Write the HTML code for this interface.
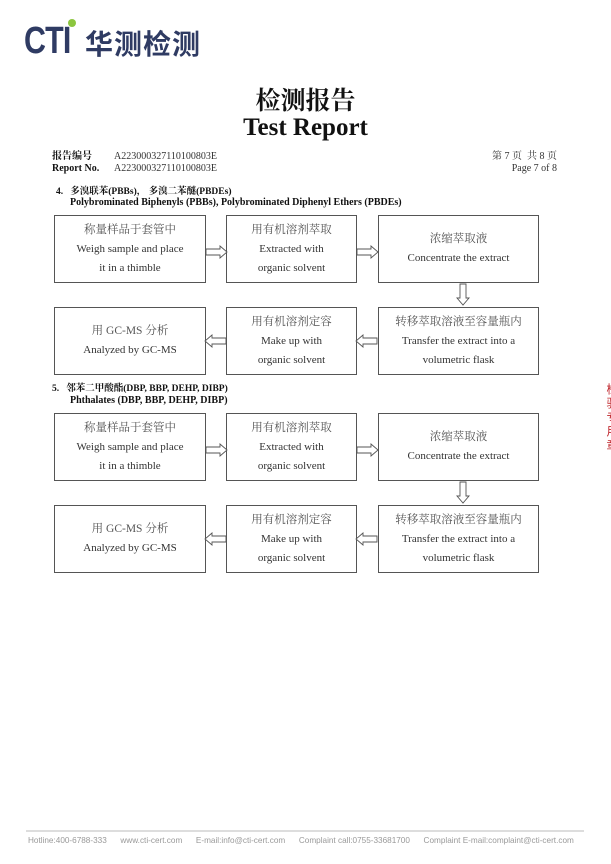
<!DOCTYPE html>
<html><head><meta charset="utf-8"><style>
body{margin:0;width:611px;height:864px;background:#fff;position:relative;overflow:hidden;font-family:"Liberation Serif","Noto Serif CJK SC",serif;color:#111}
.a{position:absolute;white-space:nowrap}
.box{position:absolute;border:1px solid #555;box-sizing:border-box;text-align:center;font-size:11px;line-height:19px;color:#333;display:flex;flex-direction:column;justify-content:center}
.cn{color:#555;font-size:11.5px}
</style></head><body>
<div class="a" style="left:24px;top:22px;font:bold 38px/38px 'Liberation Sans',sans-serif;color:#2f3b63;letter-spacing:-1px;transform:scaleX(0.8);transform-origin:left">CTI</div>
<div style="position:absolute;left:68px;top:19px;width:8px;height:8px;border-radius:50%;background:#8cc63f"></div>
<div class="a" style="left:85px;top:27px;font:bold 28px/32px 'Noto Sans CJK SC',sans-serif;color:#2f3b63;letter-spacing:1px">华测检测</div>
<div class="a" style="left:0;width:611px;text-align:center;top:84px;font:bold 25px/30px 'Noto Serif CJK SC',serif">检测报告</div>
<div class="a" style="left:0;width:611px;text-align:center;top:113px;font:bold 25px/30px 'Liberation Serif',serif">Test Report</div>
<div class="a" style="left:52px;top:151px;font-size:10px;line-height:12px;width:200px"><b>报告编号</b><span style="position:absolute;left:62px;color:#333">A223000327110100803E</span><br><b>Report No.</b><span style="position:absolute;left:62px;top:12px;color:#333">A223000327110100803E</span></div>
<div class="a" style="right:54px;top:151px;font-size:10px;line-height:12px;text-align:right;color:#333">第 7 页 &nbsp;共 8 页<br>Page 7 of 8</div>

<div class="a" style="left:56px;top:183px;font-size:9.5px;font-weight:bold">4. &nbsp;&nbsp;多溴联苯(PBBs)， 多溴二苯醚(PBDEs)</div>
<div class="a" style="left:70px;top:197px;font-size:10px;font-weight:bold">Polybrominated Biphenyls (PBBs), Polybrominated Diphenyl Ethers (PBDEs)</div>

<div class="a" style="left:52px;top:380px;font-size:9.5px;font-weight:bold">5. &nbsp;&nbsp;邻苯二甲酸酯(DBP, BBP, DEHP, DIBP)</div>
<div class="a" style="left:70px;top:395px;font-size:10px;font-weight:bold">Phthalates (DBP, BBP, DEHP, DIBP)</div>

<div class="box" style="left:54px;top:215px;width:152px;height:68px"><span class="cn">称量样品于套管中</span>Weigh sample and place<br>it in a thimble</div>
<div class="box" style="left:226px;top:215px;width:131px;height:68px"><span class="cn">用有机溶剂萃取</span>Extracted with<br>organic solvent</div>
<div class="box" style="left:378px;top:215px;width:161px;height:68px"><span class="cn">浓缩萃取液</span>Concentrate the extract</div>
<div class="box" style="left:54px;top:307px;width:152px;height:68px"><span class="cn">用 GC-MS 分析</span>Analyzed by GC-MS</div>
<div class="box" style="left:226px;top:307px;width:131px;height:68px"><span class="cn">用有机溶剂定容</span>Make up with<br>organic solvent</div>
<div class="box" style="left:378px;top:307px;width:161px;height:68px"><span class="cn">转移萃取溶液至容量瓶内</span>Transfer the extract into a<br>volumetric flask</div>
<div class="box" style="left:54px;top:413px;width:152px;height:68px"><span class="cn">称量样品于套管中</span>Weigh sample and place<br>it in a thimble</div>
<div class="box" style="left:226px;top:413px;width:131px;height:68px"><span class="cn">用有机溶剂萃取</span>Extracted with<br>organic solvent</div>
<div class="box" style="left:378px;top:413px;width:161px;height:68px"><span class="cn">浓缩萃取液</span>Concentrate the extract</div>
<div class="box" style="left:54px;top:505px;width:152px;height:68px"><span class="cn">用 GC-MS 分析</span>Analyzed by GC-MS</div>
<div class="box" style="left:226px;top:505px;width:131px;height:68px"><span class="cn">用有机溶剂定容</span>Make up with<br>organic solvent</div>
<div class="box" style="left:378px;top:505px;width:161px;height:68px"><span class="cn">转移萃取溶液至容量瓶内</span>Transfer the extract into a<br>volumetric flask</div>

<svg style="position:absolute;left:0;top:0" width="611" height="864">
<defs>
<path id="r" d="M0,-3 H14 V-6 L21,0 L14,6 V3 H0 Z" fill="#fff" stroke="#555" stroke-width="0.9"/>
</defs>
<g>
<use href="#r" transform="translate(206,252)"/>
<use href="#r" transform="translate(357,252)"/>
<use href="#r" transform="translate(463,284) rotate(90)"/>
<use href="#r" transform="translate(377,341) rotate(180)"/>
<use href="#r" transform="translate(226,341) rotate(180)"/>
</g>
<g transform="translate(0,198)">
<use href="#r" transform="translate(206,252)"/>
<use href="#r" transform="translate(357,252)"/>
<use href="#r" transform="translate(463,284) rotate(90)"/>
<use href="#r" transform="translate(377,341) rotate(180)"/>
<use href="#r" transform="translate(226,341) rotate(180)"/>
</g>
<line x1="26" y1="831" x2="584" y2="831" stroke="#bbb" stroke-width="1"/>
</svg>
<div class="a" style="left:604px;top:383px;font:12px 'Noto Sans CJK SC',sans-serif;color:#c0282e;writing-mode:vertical-rl;letter-spacing:2px">检验专用章</div>
<div class="a" style="left:28px;top:836px;font:8.2px 'Liberation Sans',sans-serif;color:#999">Hotline:400-6788-333 &nbsp;&nbsp;&nbsp;&nbsp; www.cti-cert.com &nbsp;&nbsp;&nbsp;&nbsp; E-mail:info@cti-cert.com &nbsp;&nbsp;&nbsp;&nbsp; Complaint call:0755-33681700 &nbsp;&nbsp;&nbsp;&nbsp; Complaint E-mail:complaint@cti-cert.com</div>
</body></html>
